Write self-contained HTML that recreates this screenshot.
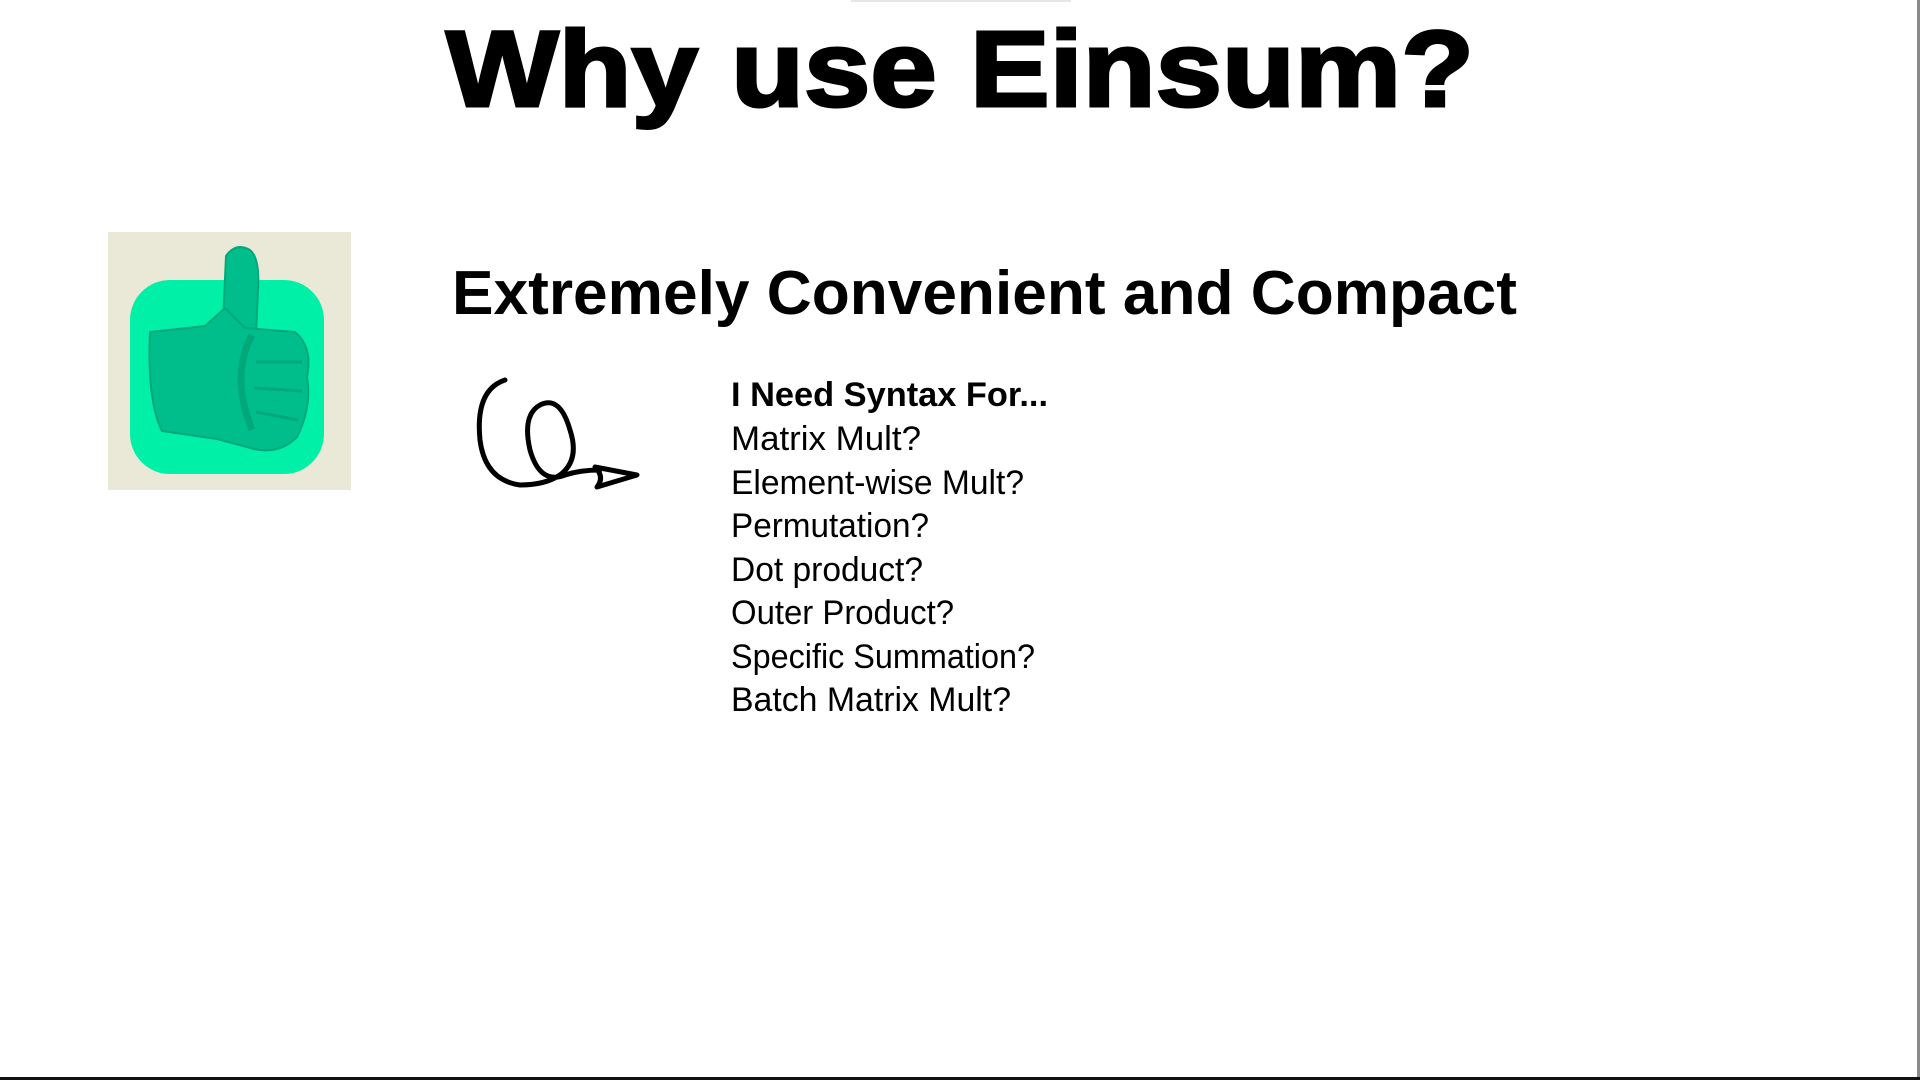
<!DOCTYPE html>
<html><head><meta charset="utf-8"><style>
html,body{margin:0;padding:0;background:#fff;width:1920px;height:1080px;overflow:hidden}
svg{display:block}
</style></head><body>
<svg width="1920" height="1080" viewBox="0 0 1920 1080">
<rect x="0" y="0" width="1920" height="1080" fill="#fff"/>
<rect x="851" y="0" width="220" height="2" fill="#e6e6e6"/>
<rect x="1917" y="0" width="3" height="1080" fill="#8a8a8a"/>
<rect x="0" y="1077" width="1920" height="3" fill="#111"/>

<text x="446" y="106" font-family="Liberation Sans, sans-serif" font-weight="900" font-size="108" textLength="1028" lengthAdjust="spacingAndGlyphs" fill="#000" stroke="#000" stroke-width="3">Why use Einsum?</text>

<g>
<rect x="108" y="232" width="243" height="258" fill="#eae8d6"/>
<rect x="130" y="280" width="194" height="194" rx="40" fill="#00f0a8"/>
<path d="M226 256 q10 -14 24 -6 q10 8 8 40 l-2 45 l-34 10 z" fill="#00be8c" stroke="#00a87a" stroke-width="2"/>
<path d="M150 332 l55 -6 l20 -18 l20 20 l50 4 q18 15 12 45 q5 30 -10 60 q-20 20 -50 10 l-30 -8 l-55 -8 q-15 -30 -12 -99 z" fill="#00be8c" stroke="#00a87a" stroke-width="2"/>
<path d="M252 335 q-22 40 0 95" fill="none" stroke="#00a87a" stroke-width="7"/>
<path d="M256 362 l46 0 M254 388 l48 3 M256 412 l42 8" stroke="#00a87a" stroke-width="3" fill="none"/>
</g>

<text x="452" y="314" font-family="Liberation Sans, sans-serif" font-weight="bold" font-size="62" textLength="1065" lengthAdjust="spacingAndGlyphs" fill="#000">Extremely Convenient and Compact</text>

<g fill="none" stroke="#000" stroke-width="5" stroke-linecap="round" stroke-linejoin="round">
<path d="M505 380 q-30 10 -25 60 q5 40 40 45 q25 0 40 -10 q20 -15 10 -45 q-10 -35 -30 -25 q-18 10 -10 45 q10 35 35 25 q15 -5 35 -5"/>
<path d="M595 467 l42 8 l-40 12 q8 -10 -2 -20 z"/>
</g>

<g font-family="Liberation Sans, sans-serif" font-size="34" fill="#000">
<text x="731" y="406" font-weight="bold" textLength="317" lengthAdjust="spacingAndGlyphs">I Need Syntax For...</text>
<text x="731" y="450" textLength="190" lengthAdjust="spacingAndGlyphs">Matrix Mult?</text>
<text x="731" y="494" textLength="293" lengthAdjust="spacingAndGlyphs">Element-wise Mult?</text>
<text x="731" y="537" textLength="198" lengthAdjust="spacingAndGlyphs">Permutation?</text>
<text x="731" y="581" textLength="192" lengthAdjust="spacingAndGlyphs">Dot product?</text>
<text x="731" y="624" textLength="223" lengthAdjust="spacingAndGlyphs">Outer Product?</text>
<text x="731" y="668" textLength="304" lengthAdjust="spacingAndGlyphs">Specific Summation?</text>
<text x="731" y="711" textLength="280" lengthAdjust="spacingAndGlyphs">Batch Matrix Mult?</text>
</g>
</svg>
</body></html>
